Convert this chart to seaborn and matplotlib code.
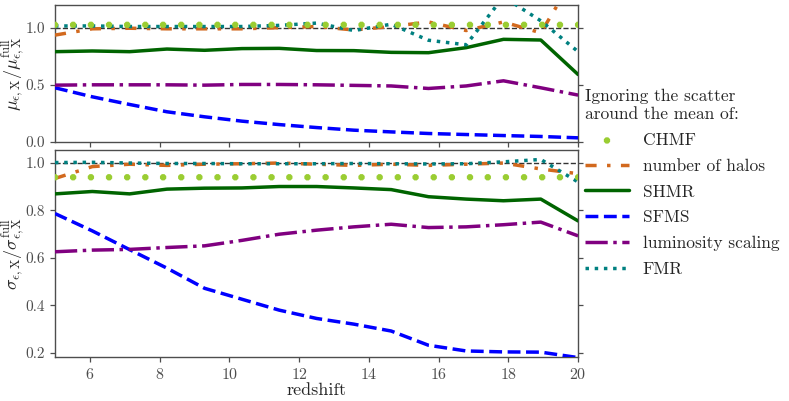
import matplotlib
matplotlib.use("Agg")
import matplotlib.pyplot as plt
import seaborn as sns
import numpy as np

# redshift grids
z_lines = [5.0, 6.07, 7.14, 8.21, 9.29, 10.36, 11.43, 12.5, 13.57, 14.64,
           15.71, 16.79, 17.86, 18.93, 20.0]
z_dots = [5.0, 5.52, 6.03, 6.55, 7.07, 7.59, 8.1, 8.62, 9.14, 9.66,
          10.17, 10.69, 11.21, 11.72, 12.24, 12.76, 13.28, 13.79, 14.31, 14.83,
          15.34, 15.86, 16.38, 16.9, 17.41, 17.93, 18.45, 18.97, 19.48, 20.0]

# top panel: mean ratio
chmf_mu = [1.025, 1.025, 1.025, 1.025, 1.025, 1.025, 1.025, 1.025, 1.025, 1.025,
           1.025, 1.025, 1.025, 1.025, 1.025, 1.025, 1.025, 1.025, 1.025, 1.025,
           1.025, 1.025, 1.025, 1.025, 1.025, 1.025, 1.025, 1.025, 1.025, 1.025]
halos_mu = [0.935, 0.99, 0.995, 0.99, 0.99, 0.99, 1.0, 1.01, 0.98, 1.01,
            1.05, 0.975, 1.05, 0.955, 1.5]
shmr_mu = [0.79, 0.796, 0.79, 0.813, 0.802, 0.817, 0.819, 0.80, 0.799, 0.784,
           0.781, 0.825, 0.898, 0.892, 0.59]
sfms_mu = [0.474, 0.395, 0.328, 0.264, 0.22, 0.182, 0.152, 0.126, 0.103, 0.088,
           0.074, 0.065, 0.056, 0.048, 0.036]
lum_mu = [0.497, 0.50, 0.50, 0.50, 0.497, 0.503, 0.503, 0.50, 0.495, 0.49,
          0.468, 0.49, 0.535, 0.474, 0.41]
fmr_mu = [1.015, 1.015, 1.01, 1.01, 1.01, 1.01, 1.02, 1.04, 0.975, 1.03,
          0.89, 0.85, 1.27, 1.06, 0.79]

# bottom panel: scatter ratio
chmf_sig = [0.94, 0.94, 0.94, 0.94, 0.94, 0.94, 0.94, 0.94, 0.94, 0.94,
            0.94, 0.94, 0.94, 0.94, 0.94, 0.94, 0.94, 0.94, 0.94, 0.94,
            0.94, 0.94, 0.94, 0.94, 0.94, 0.94, 0.94, 0.94, 0.94, 0.94]
halos_sig = [0.935, 0.985, 0.995, 0.99, 0.995, 0.997, 1.0, 0.995, 0.99, 0.995,
             0.99, 0.995, 1.0, 0.975, 0.955]
shmr_sig = [0.870, 0.880, 0.870, 0.890, 0.894, 0.895, 0.901, 0.901, 0.895, 0.888,
            0.858, 0.848, 0.841, 0.848, 0.756]
sfms_sig = [0.787, 0.714, 0.635, 0.557, 0.472, 0.426, 0.380, 0.345, 0.321, 0.292,
            0.232, 0.208, 0.204, 0.203, 0.18]
lum_sig = [0.626, 0.633, 0.636, 0.644, 0.651, 0.674, 0.700, 0.717, 0.731, 0.742,
           0.728, 0.731, 0.740, 0.751, 0.693]
fmr_sig = [1.002, 1.003, 1.0, 0.998, 0.998, 0.997, 0.997, 0.997, 0.998, 0.997,
           0.996, 0.997, 1.005, 1.015, 0.92]

labels = ["CHMF", "number of halos", "SHMR", "SFMS", "luminosity scaling", "FMR"]

sns.set_theme(style="ticks", rc={
    "axes.edgecolor": "0.3", "axes.linewidth": 1.0,
    "xtick.major.size": 3.5, "ytick.major.size": 3.5,
    "xtick.major.width": 0.9, "ytick.major.width": 0.9,
    "xtick.color": "0.3", "ytick.color": "0.3",
    "xtick.major.pad": 3.5, "ytick.major.pad": 3.5,
})
plt.rcParams["font.family"] = ["cmr10", "DejaVu Serif"]
plt.rcParams["mathtext.fontset"] = "cm"
plt.rcParams["axes.formatter.use_mathtext"] = True
plt.rcParams["axes.unicode_minus"] = False

fig = plt.figure(figsize=(7.89, 4.01), dpi=100)
ax_top = fig.add_axes([0.0697, 0.646, 0.663, 0.342])
ax_bot = fig.add_axes([0.0697, 0.110, 0.663, 0.516], sharex=ax_top)

LW = 2.5
halo_ls = (0, (3.2, 3, 1, 3))


def draw_panel(ax, chmf, halos, shmr, sfms, lum, fmr):
    ax.axhline(1.0, color="#333333", ls="--", lw=1.0, zorder=1)
    sns.lineplot(x=z_lines, y=halos, ax=ax, color="chocolate", lw=LW,
                 linestyle=halo_ls, label=labels[1], zorder=3)
    sns.lineplot(x=z_lines, y=shmr, ax=ax, color="darkgreen", lw=LW,
                 label=labels[2], zorder=3)
    sns.lineplot(x=z_lines, y=sfms, ax=ax, color="blue", lw=LW,
                 linestyle="--", label=labels[3], zorder=3)
    sns.lineplot(x=z_lines, y=lum, ax=ax, color="purple", lw=LW,
                 linestyle="-.", label=labels[4], zorder=3)
    sns.lineplot(x=z_lines, y=fmr, ax=ax, color="teal", lw=LW,
                 linestyle=":", label=labels[5], zorder=4)
    sns.scatterplot(x=z_dots, y=chmf, ax=ax, color="yellowgreen", marker="8",
                    s=24, edgecolor="none", label=labels[0], zorder=5)
    ax.tick_params(axis="y", which="both", right=True, labelsize=11)
    ax.tick_params(axis="x", labelsize=11.5)
    ax.set_xlim(5, 20)


draw_panel(ax_top, chmf_mu, halos_mu, shmr_mu, sfms_mu, lum_mu, fmr_mu)
draw_panel(ax_bot, chmf_sig, halos_sig, shmr_sig, sfms_sig, lum_sig, fmr_sig)

ax_top.set_ylim(0, 1.2)
ax_top.set_yticks([0.0, 0.5, 1.0])
ax_top.set_yticklabels(["0.0", "0.5", "1.0"])
ax_top.tick_params(axis="x", labelbottom=False)
ax_top.set_ylabel(r"$\mu_{\epsilon,\mathrm{X}}/\mu_{\epsilon,\mathrm{X}}^{\mathrm{full}}$",
                  fontsize=13)
ax_top.yaxis.set_label_coords(-0.054, 0.5)

ax_bot.set_ylim(0.183, 1.055)
ax_bot.set_yticks([0.2, 0.4, 0.6, 0.8, 1.0])
ax_bot.set_yticklabels(["0.2", "0.4", "0.6", "0.8", "1.0"])
ax_bot.set_xticks([6, 8, 10, 12, 14, 16, 18, 20])
ax_bot.set_ylabel(r"$\sigma_{\epsilon,\mathrm{X}}/\sigma_{\epsilon,\mathrm{X}}^{\mathrm{full}}$",
                  fontsize=13)
ax_bot.yaxis.set_label_coords(-0.054, 0.5)
ax_bot.set_xlabel("redshift", fontsize=13, labelpad=1)

handles, labs = ax_bot.get_legend_handles_labels()
order = [labs.index(l) for l in labels]
ax_top.get_legend().remove()
ax_bot.get_legend().remove()
fig.legend([handles[i] for i in order], labels, loc="upper left",
           bbox_to_anchor=(0.733, 0.795), frameon=False, fontsize=12.5,
           title="Ignoring the scatter\naround the mean of:", title_fontsize=12.5,
           alignment="left", handlelength=2.5, handletextpad=0.8,
           labelspacing=0.6, borderaxespad=0.0, markerscale=1.0)

fig.savefig("out.png", dpi=100)
